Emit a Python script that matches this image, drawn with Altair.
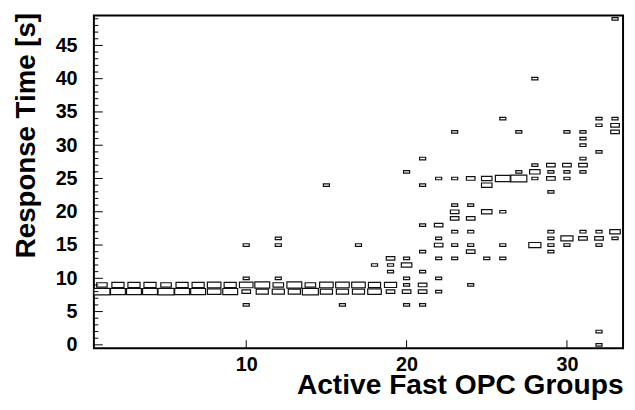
import altair as alt
import pandas as pd
import numpy as np

# Active Fast OPC Groups (bin centre), Response time (bin centre, s), entries
xs = [1, 1, 2, 2, 3, 3, 4, 4, 5, 5, 6, 6, 7, 7, 8, 8, 9, 9,
      10, 10, 10, 10, 10,
      11, 11,
      12, 12, 12, 12, 12,
      13, 13, 14, 14,
      15, 15, 15,
      16, 16, 16,
      17, 17, 17,
      18, 18, 18,
      19, 19, 19, 19, 19,
      20, 20, 20, 20, 20, 20, 20,
      21, 21, 21, 21, 21, 21, 21, 21,
      22, 22, 22, 22, 22, 22, 22,
      23, 23, 23, 23, 23, 23, 23, 23,
      24, 24, 24, 24, 24, 24, 24,
      25, 25, 25, 25,
      26, 26, 26, 26, 26,
      27, 27, 27,
      28, 28, 28, 28, 28,
      29, 29, 29, 29, 29, 29, 29, 29,
      30, 30, 30, 30, 30, 30,
      31, 31, 31, 31, 31, 31, 31, 31,
      32, 32, 32, 32, 32, 32, 32, 32,
      33, 33, 33, 33, 33, 33]
ys = [8, 9, 8, 9, 8, 9, 8, 9, 8, 9, 8, 9, 8, 9, 8, 9, 8, 9,
      6, 8, 9, 10, 15,
      8, 9,
      8, 9, 10, 15, 16,
      8, 9, 8, 9,
      8, 9, 24,
      6, 8, 9,
      8, 9, 15,
      8, 9, 12,
      8, 9, 11, 12, 13,
      6, 8, 9, 10, 12, 13, 26,
      6, 8, 9, 11, 14, 18, 24, 28,
      8, 10, 13, 15, 16, 18, 25,
      13, 15, 17, 19, 20, 21, 25, 32,
      9, 14, 15, 17, 19, 21, 25,
      13, 20, 24, 25,
      13, 15, 20, 25, 34,
      25, 26, 32,
      15, 25, 26, 27, 40,
      14, 15, 16, 17, 23, 25, 26, 27,
      15, 16, 25, 26, 27, 32,
      16, 17, 26, 27, 28, 30, 31, 32,
      0, 2, 15, 16, 17, 29, 33, 34,
      16, 17, 32, 33, 34, 49]
counts = [7, 3, 6, 4, 6, 4, 6, 4, 7, 3, 6, 4, 6, 4, 5, 5, 6, 4,
          1, 2, 5, 1, 1,
          4, 6,
          4, 3, 1, 1, 1,
          4, 6, 7, 3,
          4, 5, 1,
          1, 4, 5,
          4, 5, 1,
          5, 4, 1,
          2, 4, 1, 1, 2,
          1, 2, 1, 1, 3, 1, 1,
          1, 2, 2, 1, 1, 1, 1, 1,
          1, 1, 1, 2, 1, 2, 1,
          1, 1, 1, 2, 2, 1, 1, 1,
          1, 2, 1, 1, 2, 1, 2,
          1, 3, 3, 3,
          1, 1, 1, 6, 1,
          7, 1, 1,
          4, 1, 3, 1, 1,
          1, 1, 1, 1, 1, 2, 1, 2,
          1, 4, 1, 1, 2, 1,
          2, 1, 1, 2, 1, 1, 1, 1,
          1, 1, 1, 2, 1, 1, 1, 1,
          1, 3, 2, 2, 1, 1]

x_ticks = [10, 20, 30]
y_ticks = [0, 5, 10, 15, 20, 25, 30, 35, 40, 45]
y_minor = [v for v in range(0, 50) if v % 5 != 0]

df = pd.DataFrame({"x": xs, "y": ys, "n": counts})
frac = np.sqrt(df["n"] / df["n"].max())
df["x0"] = df["x"] - 0.5 * frac
df["x1"] = df["x"] + 0.5 * frac
df["y0"] = df["y"] - 0.5 * frac
df["y1"] = df["y"] + 0.5 * frac

FONT = "Liberation Sans"
xscale = alt.Scale(domain=[0.5, 33.5], nice=False, zero=False)
yscale = alt.Scale(domain=[-0.5, 49.5], nice=False, zero=False)

boxes = alt.Chart(df).mark_rect(fill="white", stroke="#111111", strokeWidth=1.2).encode(
    x=alt.X("x0:Q", scale=xscale, axis=alt.Axis(
        values=x_ticks, ticks=False, domain=False, grid=False,
        labelFont=FONT, labelFontWeight="bold", labelFontSize=20, labelColor="black",
        labelPadding=7,
        title="Active Fast OPC Groups", titleFont=FONT, titleFontWeight="bold",
        titleFontSize=28.5, titleColor="black", titleAlign="right",
        titleX=536, titleY=46, titleBaseline="alphabetic")),
    x2="x1:Q",
    y=alt.Y("y0:Q", scale=yscale, axis=alt.Axis(
        values=y_ticks, ticks=False, domain=False, grid=False,
        labelFont=FONT, labelFontWeight="bold", labelFontSize=20, labelColor="black",
        labelPadding=17,
        title="Response Time [s]", titleFont=FONT, titleFontWeight="bold",
        titleFontSize=28, titleColor="black", titleAngle=270, titleAlign="right",
        titleBaseline="alphabetic", titleX=-60, titleY=-3)),
    y2="y1:Q",
)

xt = alt.Chart(pd.DataFrame({"v": x_ticks})).mark_rule(color="black", strokeWidth=1).encode(
    x=alt.X("v:Q", scale=xscale, axis=None),
    y=alt.value(337), y2=alt.value(329))

ytm = alt.Chart(pd.DataFrame({"v": y_ticks})).mark_rule(color="black", strokeWidth=1).encode(
    y=alt.Y("v:Q", scale=yscale, axis=None),
    x=alt.value(0), x2=alt.value(9))

ytn = alt.Chart(pd.DataFrame({"v": y_minor})).mark_rule(color="black", strokeWidth=1).encode(
    y=alt.Y("v:Q", scale=yscale, axis=None),
    x=alt.value(0), x2=alt.value(4.5))

chart = alt.layer(boxes, xt, ytm, ytn).resolve_scale(
    x="shared", y="shared"
).resolve_axis(
    x="independent", y="independent"
).properties(
    width=536, height=337,
    autosize="none",
    padding={"left": 87, "top": 5, "right": 4, "bottom": 55},
    background="white",
).configure_view(stroke="black", strokeWidth=2)

chart.save("out.html", embed_options={"renderer": "svg", "actions": False})
